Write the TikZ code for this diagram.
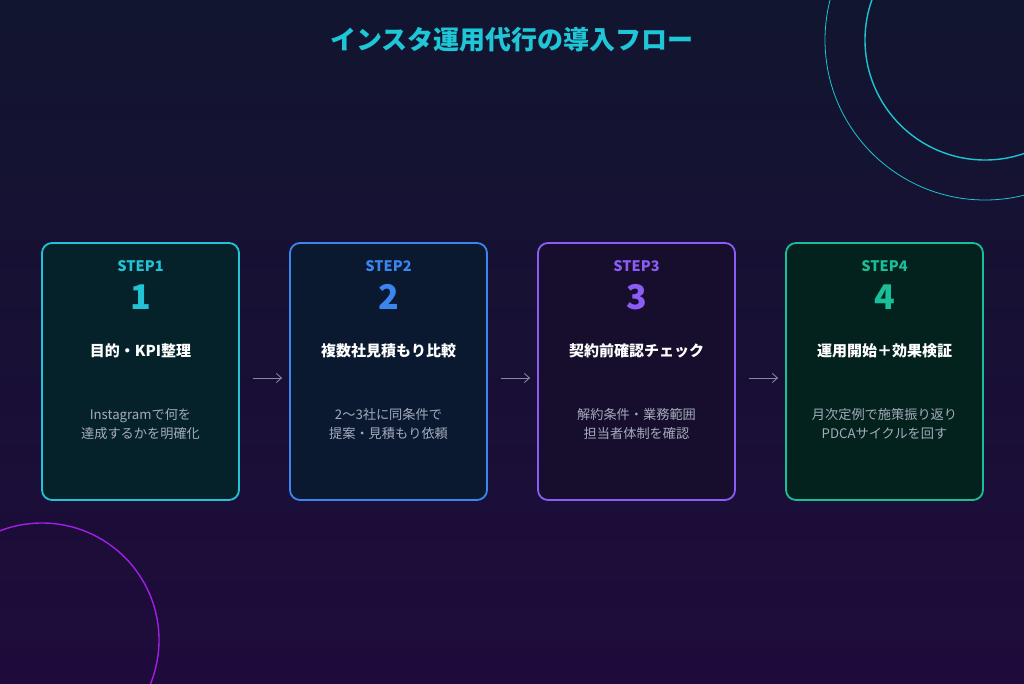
\documentclass[tikz,border=0pt]{standalone}
\usepackage{fontspec}
\setmainfont{Noto Sans CJK JP}
\usetikzlibrary{arrows.meta}

\definecolor{bgtop}{HTML}{11152F}
\definecolor{bgbottom}{HTML}{1F0B3B}
\definecolor{ringcyan}{HTML}{1FC3D2}
\definecolor{ringpurple}{HTML}{A21DE6}
\definecolor{titlecyan}{HTML}{1EC6D6}
\definecolor{stepA}{HTML}{22C3D6}
\definecolor{stepB}{HTML}{3B86EE}
\definecolor{stepC}{HTML}{8B5CF6}
\definecolor{stepD}{HTML}{18BF98}
\definecolor{fillA}{HTML}{05222B}
\definecolor{fillB}{HTML}{0A1930}
\definecolor{fillC}{HTML}{160E2C}
\definecolor{fillD}{HTML}{03211D}
\definecolor{descgray}{HTML}{A4ABBB}
\definecolor{arrowgray}{HTML}{8A879F}

\begin{document}
\begin{tikzpicture}[x=1pt,y=-1pt,
  box/.style={draw,line width=1.8pt,rounded corners=10pt,minimum width=197pt,minimum height=257pt},
  steplabel/.style={font=\bfseries\fontsize{14.5}{17}\selectfont},
  bignum/.style={font=\bfseries\fontsize{34}{36}\selectfont},
  headline/.style={text=white,font=\bfseries\fontsize{15}{18}\selectfont},
  note/.style={text=descgray,align=center,font=\fontsize{13.2}{18.5}\selectfont},
  flow/.style={draw=arrowgray,line width=0.9pt,-{Straight Barb[length=5pt,width=9pt]}}]

\useasboundingbox (0,0) rectangle (1024,683);
\shade[top color=bgtop,bottom color=bgbottom] (0,0) rectangle (1024,683);

\begin{scope}
\clip (0,0) rectangle (1024,683);
\draw[ringcyan,line width=1.4pt] (985,40) circle[radius=120pt];
\draw[ringcyan,line width=0.8pt] (985,40) circle[radius=160pt];
\draw[ringpurple,line width=1.4pt] (42,640) circle[radius=117pt];
\end{scope}

\node[text=titlecyan,font=\bfseries\fontsize{26}{30}\selectfont] (title) at (512,40) {インスタ運用代行の導入フロー};

\foreach \i/\x/\c/\f in {1/140.5/stepA/fillA,2/388.5/stepB/fillB,3/636.5/stepC/fillC,4/884.5/stepD/fillD}{
	\node[box,draw=\c,fill=\f] (s\i) at (\x,371.5) {};
	\node[steplabel,text=\c] (lab\i) at (\x,266) {STEP\i};
	\node[bignum,text=\c] (num\i) at (\x,297) {\i};
}

\foreach \i/\t/\d in {1/{目的・KPI整理}/{Instagramで何を\\達成するかを明確化},
	2/{複数社見積もり比較}/{2〜3社に同条件で\\提案・見積もり依頼},
	3/{契約前確認チェック}/{解約条件・業務範囲\\担当者体制を確認},
	4/{運用開始＋効果検証}/{月次定例で施策振り返り\\PDCAサイクルを回す}}{
	\node[headline] (head\i) at (s\i |- 0,351) {\t};
	\node[note] (note\i) at (s\i |- 0,424) {\d};
}

\foreach \a/\b in {1/2,2/3,3/4}
	\draw[flow] ([xshift=13pt,yshift=-6.5pt]s\a.east)--([xshift=-7pt,yshift=-6.5pt]s\b.west);

\end{tikzpicture}
\end{document}
